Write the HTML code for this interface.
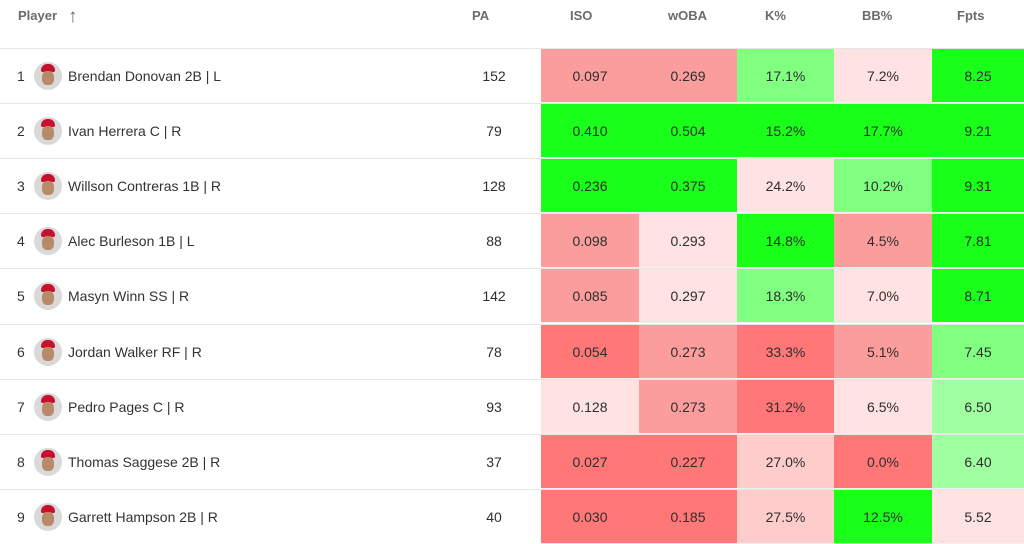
<!DOCTYPE html>
<html><head><meta charset="utf-8"><style>
*{margin:0;padding:0;box-sizing:border-box}
body{width:1024px;height:541px;overflow:hidden;background:#fff;font-family:"Liberation Sans",sans-serif;color:#333;position:relative}
.h{position:absolute;top:8px;font-size:13px;color:#6b6b6b;font-weight:bold}
.row{position:absolute;left:0;width:1024px;height:55px;border-top:1px solid #e6e6e6}
.c{position:absolute;top:0;height:100%;display:flex;align-items:center;justify-content:center;font-size:14px;color:#2e2e2e}
.v{border-bottom:1px solid #f0f0f0}
.n{position:absolute;left:17px;top:19px;font-size:14px}
.av{position:absolute;left:34px;top:13px;width:28px;height:28px;border-radius:50%;background:#d9d9d9;overflow:hidden}
.av:before{content:"";position:absolute;left:7px;top:2px;width:14px;height:8px;background:#c8102e;border-radius:7px 7px 2px 2px}
.av:after{content:"";position:absolute;left:8px;top:9px;width:12px;height:14px;background:#b98a6a;border-radius:40%}
.nm{position:absolute;left:68px;top:19px;font-size:14px}
</style></head><body>
<div class="h" style="left:18px">Player</div>
<div class="h" style="left:68px;top:6px;font-weight:normal;font-size:19px">&#8593;</div>
<div class="h" style="left:472px">PA</div>
<div class="h" style="left:570px">ISO</div>
<div class="h" style="left:668px">wOBA</div>
<div class="h" style="left:765px">K%</div>
<div class="h" style="left:862px">BB%</div>
<div class="h" style="left:957px">Fpts</div>
<div id="t"></div>
<script>
var R='#ff7777',M='#fc9d9d',P='#ffe2e2',K='#ffcccc',G='#1aff1a',L='#80ff80',Q='#a0ffa0';
var d=[
["Brendan Donovan 2B | L",152,"0.097",M,"0.269",M,"17.1%",L,"7.2%",P,"8.25",G],
["Ivan Herrera C | R",79,"0.410",G,"0.504",G,"15.2%",G,"17.7%",G,"9.21",G],
["Willson Contreras 1B | R",128,"0.236",G,"0.375",G,"24.2%",P,"10.2%",L,"9.31",G],
["Alec Burleson 1B | L",88,"0.098",M,"0.293",P,"14.8%",G,"4.5%",M,"7.81",G],
["Masyn Winn SS | R",142,"0.085",M,"0.297",P,"18.3%",L,"7.0%",P,"8.71",G],
["Jordan Walker RF | R",78,"0.054",R,"0.273",M,"33.3%",R,"5.1%",M,"7.45",L],
["Pedro Pages C | R",93,"0.128",P,"0.273",M,"31.2%",R,"6.5%",P,"6.50",Q],
["Thomas Saggese 2B | R",37,"0.027",R,"0.227",R,"27.0%",K,"0.0%",R,"6.40",Q],
["Garrett Hampson 2B | R",40,"0.030",R,"0.185",R,"27.5%",K,"12.5%",G,"5.52",P]];
var xs=[[541,639],[639,737],[737,834],[834,932],[932,1024]];
var h='';
d.forEach(function(r,i){
var top=48+Math.round(i*55.1);
h+='<div class="row" style="top:'+top+'px"><span class="n">'+(i+1)+'</span><span class="av"></span><span class="nm">'+r[0]+'</span>';
h+='<div class="c" style="left:454px;width:80px">'+r[1]+'</div>';
for(var j=0;j<5;j++){h+='<div class="c v" style="left:'+xs[j][0]+'px;width:'+(xs[j][1]-xs[j][0])+'px;background:'+r[3+j*2]+'">'+r[2+j*2]+'</div>';}
h+='</div>';});
document.getElementById('t').innerHTML=h;
</script>
</body></html>
